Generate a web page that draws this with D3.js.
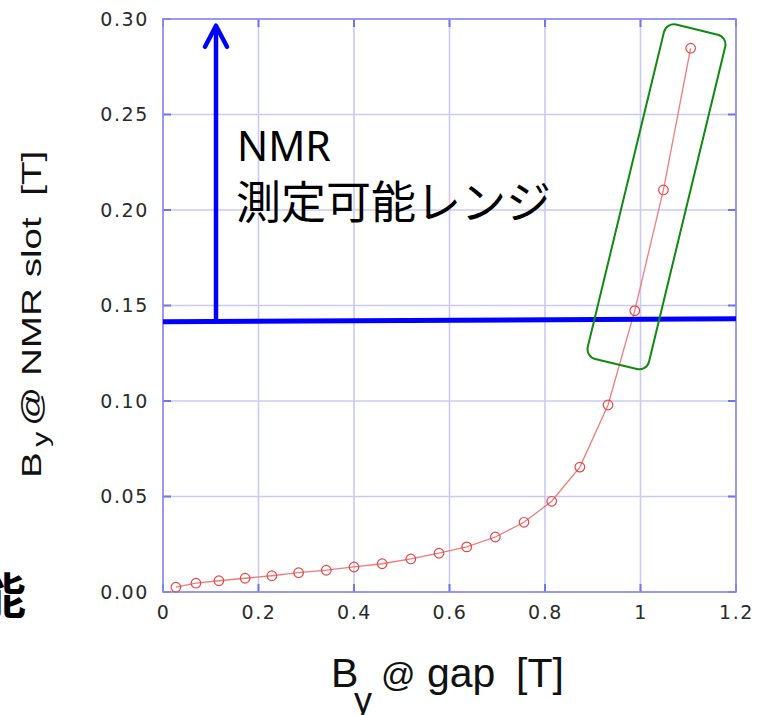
<!DOCTYPE html>
<html>
<head>
<meta charset="utf-8">
<script src="https://cdn.jsdelivr.net/npm/d3@7"></script>
<style>
  body { margin: 0; background: #fff; }
  svg { display: block; }
</style>
</head>
<body>
<div id="sandbox"></div>
<script>
// Set up the SVG
const width = 769;
const height = 715;
const margin = { left: 163, top: 19, right: 33, bottom: 123 };
const plotW = width - margin.left - margin.right;   // 573
const plotH = height - margin.top - margin.bottom;  // 573

// Data: B_y at gap [T] vs B_y at NMR slot [T]
const gapField = [0.027, 0.069, 0.117, 0.172, 0.228, 0.284, 0.342, 0.400, 0.459, 0.519,
                  0.578, 0.636, 0.696, 0.756, 0.814, 0.873, 0.932, 0.988, 1.048, 1.105];
const slotField = [0.0025, 0.0046, 0.0059, 0.0072, 0.0085, 0.0101, 0.0114, 0.0131, 0.0148, 0.0173,
                   0.0203, 0.0236, 0.0288, 0.0365, 0.0475, 0.0654, 0.0979, 0.1473, 0.2105, 0.2847];

// Tick values
const xTicks = [0, 0.2, 0.4, 0.6, 0.8, 1, 1.2];
const yTicks = [0, 0.05, 0.10, 0.15, 0.20, 0.25, 0.30];

// Annotations in data units
const rangeLine = [[0, 0.1415], [1.2, 0.1430]];   // lower limit of NMR range
const rangeArrow = [[0.111, 0.1415], [0.111, 0.2965]];
const boxCenter = [1.0335, 0.2069];
const labelLines = ["NMR", "測定可能レンジ"];

const svg = d3.select("#sandbox")
    .append("svg")
    .attr("width", width)
    .attr("height", height);

// Scales
const x = d3.scaleLinear()
    .domain([0, 1.2])
    .range([margin.left, margin.left + plotW]);

const y = d3.scaleLinear()
    .domain([0, 0.3])
    .range([margin.top + plotH, margin.top]);

// Grid
svg.append("g")
    .selectAll("line")
    .data(xTicks)
    .join("line")
    .attr("x1", d => x(d)).attr("x2", d => x(d))
    .attr("y1", y(0)).attr("y2", y(0.3))
    .attr("stroke", "#cacaf5")
    .attr("stroke-width", 1.6);

svg.append("g")
    .selectAll("line")
    .data(yTicks)
    .join("line")
    .attr("y1", d => y(d)).attr("y2", d => y(d))
    .attr("x1", x(0)).attr("x2", x(1.2))
    .attr("stroke", "#cacaf5")
    .attr("stroke-width", 1.6);

// Inner ticks on all four sides
const tickLen = 8;
const tickColor = "#7474ea";
const ticks = svg.append("g").attr("stroke", tickColor).attr("stroke-width", 2);
ticks.selectAll(".tl").data(yTicks).join("line")
    .attr("x1", x(0)).attr("x2", x(0) + tickLen)
    .attr("y1", d => y(d)).attr("y2", d => y(d));
ticks.selectAll(".tr").data(yTicks).join("line")
    .attr("x1", x(1.2)).attr("x2", x(1.2) - tickLen)
    .attr("y1", d => y(d)).attr("y2", d => y(d));
ticks.selectAll(".tb").data(xTicks).join("line")
    .attr("x1", d => x(d)).attr("x2", d => x(d))
    .attr("y1", y(0)).attr("y2", y(0) - tickLen);
ticks.selectAll(".tt").data(xTicks).join("line")
    .attr("x1", d => x(d)).attr("x2", d => x(d))
    .attr("y1", y(0.3)).attr("y2", y(0.3) + tickLen);

// Frame
svg.append("rect")
    .attr("x", x(0))
    .attr("y", y(0.3))
    .attr("width", plotW)
    .attr("height", plotH)
    .attr("fill", "none")
    .attr("stroke", "#8a8aee")
    .attr("stroke-width", 1.6);

// Axes labels
const yAxis = svg.append("g")
    .attr("transform", `translate(${x(0)},0)`)
    .call(d3.axisLeft(y).tickValues(yTicks).tickFormat(d3.format(".2f")).tickSize(0).tickPadding(14));
const xAxis = svg.append("g")
    .attr("transform", `translate(0,${y(0)})`)
    .call(d3.axisBottom(x).tickValues(xTicks).tickFormat(d3.format("~g")).tickSize(0).tickPadding(14));

[yAxis, xAxis].forEach(a => {
    a.select(".domain").remove();
    a.selectAll("text")
        .attr("font-family", "DejaVu Sans, Verdana, sans-serif")
        .attr("font-size", 19)
        .attr("letter-spacing", "1.6px")
        .attr("fill", "#2a2a2a");
});

// Curve
const pts = gapField.map((g, i) => [g, slotField[i]]);
svg.append("path")
    .datum(pts)
    .attr("fill", "none")
    .attr("stroke", "#f27a7a")
    .attr("stroke-width", 1.3)
    .attr("d", d3.line().x(d => x(d[0])).y(d => y(d[1])));

svg.append("g")
    .selectAll("circle")
    .data(pts)
    .join("circle")
    .attr("cx", d => x(d[0]))
    .attr("cy", d => y(d[1]))
    .attr("r", 4.8)
    .attr("fill", "none")
    .attr("stroke", "#e84545")
    .attr("stroke-width", 1.2);

// NMR range line + arrow
svg.append("line")
    .attr("x1", x(rangeLine[0][0])).attr("y1", y(rangeLine[0][1]))
    .attr("x2", x(rangeLine[1][0])).attr("y2", y(rangeLine[1][1]))
    .attr("stroke", "#0000ff")
    .attr("stroke-width", 5);

const tip = [x(rangeArrow[1][0]), y(rangeArrow[1][1])];
svg.append("line")
    .attr("x1", x(rangeArrow[0][0])).attr("y1", y(rangeArrow[0][1]))
    .attr("x2", tip[0]).attr("y2", tip[1] + 2)
    .attr("stroke", "#0000ff")
    .attr("stroke-width", 4.5);
svg.append("path")
    .attr("d", `M${tip[0] - 11},${tip[1] + 21} L${tip[0]},${tip[1]} L${tip[0] + 11},${tip[1] + 21}`)
    .attr("fill", "none")
    .attr("stroke", "#0000ff")
    .attr("stroke-width", 4.5)
    .attr("stroke-linecap", "round")
    .attr("stroke-linejoin", "round");

// Green highlight box
svg.append("rect")
    .attr("x", -31.5).attr("y", -172)
    .attr("width", 63).attr("height", 344)
    .attr("rx", 10)
    .attr("fill", "none")
    .attr("stroke", "#118811")
    .attr("stroke-width", 2)
    .attr("transform", `translate(${x(boxCenter[0])},${y(boxCenter[1])}) rotate(13.6)`);

// Annotation text
svg.append("text")
    .attr("x", 237).attr("y", 161)
    .attr("font-family", "Noto Sans, sans-serif")
    .attr("font-size", 41)
    .attr("fill", "#000")
    .text(labelLines[0]);
svg.append("text")
    .attr("x", 236).attr("y", 219)
    .attr("font-family", "Noto Sans CJK JP, sans-serif")
    .attr("font-size", 45)
    .attr("fill", "#000")
    .text(labelLines[1]);

// Axis titles
const xTitle = svg.append("g")
    .attr("font-family", "Liberation Sans, Arial, sans-serif")
    .attr("font-size", 41)
    .attr("fill", "#111");
xTitle.append("text").attr("x", 331).attr("y", 687).text("B");
xTitle.append("text").attr("x", 354).attr("y", 713).attr("font-size", 36).text("y");
xTitle.append("text").attr("x", 381).attr("y", 686).attr("font-size", 34).text("@");
xTitle.append("text").attr("x", 427).attr("y", 687).text("gap");
xTitle.append("text").attr("x", 516).attr("y", 687).text("[T]");

const yTitle = svg.append("text")
    .attr("transform", "translate(41,478) rotate(-90) scale(1.38,1)")
    .attr("font-family", "Liberation Sans, Arial, sans-serif")
    .attr("font-size", 28)
    .attr("fill", "#111")
    .attr("xml:space", "preserve");
yTitle.append("tspan").text("B");
yTitle.append("tspan").attr("dy", 7).attr("dx", 4).attr("font-size", 22).text("y");
yTitle.append("tspan").attr("dy", -7).attr("dx", 4).text("@ NMR slot  [T]");

// Clipped character at the bottom-left edge
svg.append("text")
    .attr("x", -22).attr("y", 613)
    .attr("font-family", "Noto Sans CJK JP, sans-serif")
    .attr("font-weight", "bold")
    .attr("font-size", 48)
    .attr("fill", "#000")
    .text("能");
</script>
</body>
</html>
